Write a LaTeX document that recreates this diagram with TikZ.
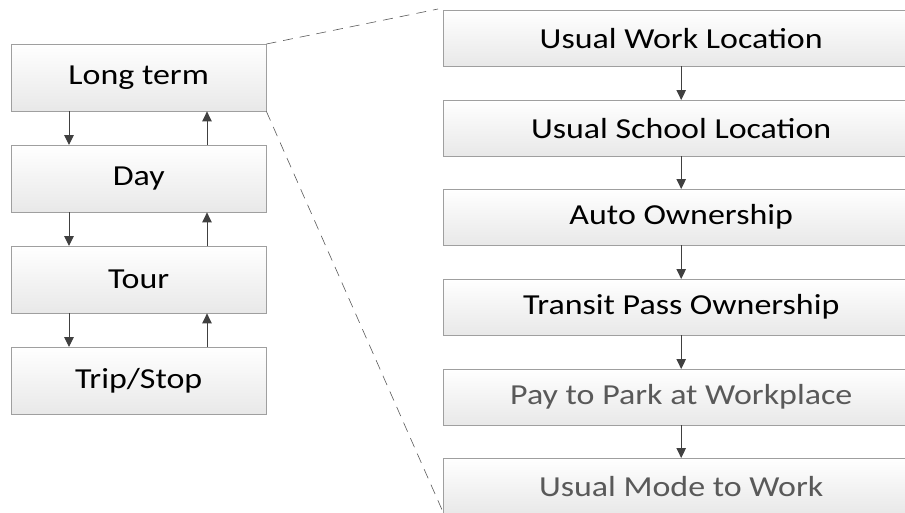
\documentclass[tikz,border=0pt]{standalone}
\usepackage{fontspec}
\setmainfont{Carlito}[FakeStretch=1.17]
\usetikzlibrary{arrows.meta}

\tikzset{
  box/.style={draw=gray!75, top color=white, bottom color=black!9, inner sep=0pt,
    anchor=north west, font=\fontsize{29}{31}\selectfont},
  lbox/.style={box, minimum width=255pt, minimum height=67pt},
  rbox/.style={box, minimum width=476pt, minimum height=56pt},
  flow/.style={draw=black!75, line width=1pt, -{Triangle[length=10pt,width=9.5pt]}},
  zoomline/.style={draw=black!65, line width=0.6pt, dash pattern=on 10pt off 7pt}
}

\begin{document}
\begin{tikzpicture}[x=1pt, y=-1pt]
                  \useasboundingbox (0,0) rectangle (905,512);
                  \clip (0,0) rectangle (905,512);

                  % levels
                  \node[lbox] (lt)   at (11,44)  {Long term};
                  \node[lbox] (day)  at (11,145) {Day};
                  \node[lbox] (tour) at (11,246) {Tour};
                  \node[lbox] (trip) at (11,347) {Trip/Stop};

                  \draw[flow] ([xshift=58pt]lt.south west)   -- ([xshift=58pt]day.north west);
                  \draw[flow] ([xshift=58pt]day.south west)  -- ([xshift=58pt]tour.north west);
                  \draw[flow] ([xshift=58pt]tour.south west) -- ([xshift=58pt]trip.north west);
                  \draw[flow] ([xshift=196pt]day.north west)  -- ([xshift=196pt]lt.south west);
                  \draw[flow] ([xshift=196pt]tour.north west) -- ([xshift=196pt]day.south west);
                  \draw[flow] ([xshift=196pt]trip.north west) -- ([xshift=196pt]tour.south west);

                  % long term models
                  \node[rbox] (work)    at (443,10)  {Usual Work Location};
                  \node[rbox] (school)  at (443,100) {Usual School Location};
                  \node[rbox] (auto)    at (443,189) {Auto Ownership};
                  \node[rbox] (transit) at (443,279) {Transit Pass Ownership};
                  \node[rbox, text=black!65] (park) at (443,369) {Pay to Park at Workplace};
                  \node[rbox, text=black!65] (mode) at (443,458) {Usual Mode to Work};

                  \draw[flow] (work.south)    -- (school.north);
                  \draw[flow] (school.south)  -- (auto.north);
                  \draw[flow] (auto.south)    -- (transit.north);
                  \draw[flow] (transit.south) -- (park.north);
                  \draw[flow] (park.south)    -- (mode.north);

                  % zoom lines
                  \coordinate (ztop) at (438,9);
                  \coordinate (zbot) at (443,512);
                  \draw[zoomline] (lt.north east) -- (ztop);
                  \draw[zoomline] (lt.south east) -- (zbot);

              \end{tikzpicture}
\end{document}
